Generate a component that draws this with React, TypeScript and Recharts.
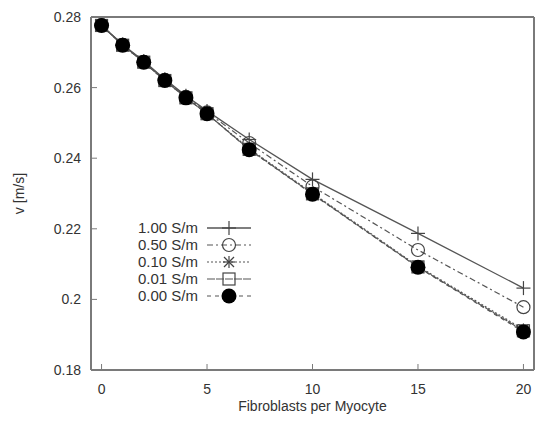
import { LineChart, Line, XAxis, YAxis } from 'recharts'

const FIBROBLASTS = [0, 1, 2, 3, 4, 5, 7, 10, 15, 20]
const V_100 = [0.2777, 0.2722, 0.2675, 0.2624, 0.2577, 0.2534, 0.2453, 0.234, 0.2187, 0.2032]
const V_050 = [0.2777, 0.2721, 0.2673, 0.2622, 0.2574, 0.253, 0.2443, 0.232, 0.214, 0.1978]
const V_010 = [0.2776, 0.272, 0.2672, 0.262, 0.2572, 0.2526, 0.2427, 0.2301, 0.2094, 0.1915]
const V_001 = [0.2776, 0.272, 0.2672, 0.262, 0.2571, 0.2526, 0.2425, 0.2299, 0.2092, 0.1911]
const V_000 = [0.2776, 0.272, 0.2672, 0.262, 0.2571, 0.2526, 0.2424, 0.2298, 0.2091, 0.1908]

const X_TICKS = [0, 5, 10, 15, 20]
const Y_TICKS = [0.18, 0.2, 0.22, 0.24, 0.26, 0.28]
const LABELS = ['1.00 S/m', '0.50 S/m', '0.10 S/m', '0.01 S/m', '0.00 S/m']

const data = FIBROBLASTS.map((f, i) => ({
  f,
  s100: V_100[i],
  s050: V_050[i],
  s010: V_010[i],
  s001: V_001[i],
  s000: V_000[i],
}))

const FONT = '"Liberation Sans", Arial, sans-serif'
const INK = '#333'
const FRAME = '#7a7a7a'
const LINE = '#555'

type Mark = 'plus' | 'circle' | 'star' | 'square' | 'dot'

function marker(kind: Mark, cx: number, cy: number, key?: string | number) {
  switch (kind) {
    case 'plus':
      return (
        <g key={key} stroke="#444" strokeWidth={1.2}>
          <line x1={cx - 7} y1={cy} x2={cx + 7} y2={cy} />
          <line x1={cx} y1={cy - 7} x2={cx} y2={cy + 7} />
        </g>
      )
    case 'circle':
      return <circle key={key} cx={cx} cy={cy} r={6.5} fill="none" stroke="#444" strokeWidth={1.2} />
    case 'star':
      return (
        <g key={key} stroke="#444" strokeWidth={1.2}>
          <line x1={cx - 5} y1={cy - 5} x2={cx + 5} y2={cy + 5} />
          <line x1={cx - 5} y1={cy + 5} x2={cx + 5} y2={cy - 5} />
          <line x1={cx - 6} y1={cy} x2={cx + 6} y2={cy} />
          <line x1={cx} y1={cy - 6} x2={cx} y2={cy + 6} />
        </g>
      )
    case 'square':
      return <rect key={key} x={cx - 6} y={cy - 6} width={12} height={12} fill="none" stroke="#444" strokeWidth={1.2} />
    default:
      return <circle key={key} cx={cx} cy={cy} r={7.5} fill="#000" />
  }
}

const SERIES: { key: string; mark: Mark; dash?: string; width: number }[] = [
  { key: 's100', mark: 'plus', width: 1.3 },
  { key: 's050', mark: 'circle', dash: '6 3 2 3', width: 1.2 },
  { key: 's010', mark: 'star', dash: '2 2', width: 1.2 },
  { key: 's001', mark: 'square', dash: '8 1', width: 1.1 },
  { key: 's000', mark: 'dot', dash: '4 4', width: 1.2 },
]

function Legend() {
  return (
    <svg width={538} height={422} style={{ position: 'absolute', left: 0, top: 0, pointerEvents: 'none' }}>
      {SERIES.map((s, i) => {
        const y = 228 + i * 17
        return (
          <g key={s.key}>
            <text x={198} y={y + 5} textAnchor="end" fontSize={15} fontFamily={FONT} fill={INK}>
              {LABELS[i]}
            </text>
            <line x1={207} y1={y} x2={251} y2={y} stroke={LINE} strokeWidth={s.width} strokeDasharray={s.dash} />
            {marker(s.mark, 229, y)}
          </g>
        )
      })}
    </svg>
  )
}

export default function App() {
  const tickStyle = { fontSize: 14, fontFamily: FONT, fill: INK }
  return (
    <div style={{ position: 'absolute', left: 0, top: 0, width: 538, height: 422, background: '#fff' }}>
      <LineChart width={538} height={422} data={data} margin={{ top: 16, right: 3, left: 0, bottom: 0 }}>
        <XAxis
          dataKey="f"
          type="number"
          domain={[-0.5, 20.5]}
          ticks={X_TICKS}
          height={52}
          tickSize={-6}
          tickMargin={20}
          tick={tickStyle}
          stroke={FRAME}
          axisLine={{ stroke: FRAME, strokeWidth: 2 }}
          tickLine={{ stroke: FRAME }}
          label={(p: any) => {
            const vb = p.viewBox
            return (
              <text x={vb.x + vb.width / 2} y={vb.y + 41} textAnchor="middle" fontSize={14} fontFamily={FONT} fill={INK}>
                Fibroblasts per Myocyte
              </text>
            )
          }}
        />
        <XAxis
          xAxisId="top"
          orientation="top"
          dataKey="f"
          type="number"
          domain={[-0.5, 20.5]}
          ticks={X_TICKS}
          height={1}
          tickSize={-6}
          tick={false}
          axisLine={{ stroke: FRAME, strokeWidth: 2 }}
          tickLine={{ stroke: FRAME }}
        />
        <YAxis
          type="number"
          domain={[0.18, 0.28]}
          ticks={Y_TICKS}
          width={91}
          tickSize={-6}
          tickMargin={16}
          tick={tickStyle}
          tickFormatter={(v: number) => String(Number(v.toFixed(2)))}
          axisLine={{ stroke: FRAME, strokeWidth: 2 }}
          tickLine={{ stroke: FRAME }}
          label={(p: any) => {
            const vb = p.viewBox
            const cy = vb.y + vb.height / 2
            return (
              <text x={24} y={cy} transform={`rotate(-90 24 ${cy})`} textAnchor="middle" fontSize={14} fontFamily={FONT} fill={INK}>
                v [m/s]
              </text>
            )
          }}
        />
        <YAxis
          yAxisId="right"
          orientation="right"
          type="number"
          domain={[0.18, 0.28]}
          ticks={Y_TICKS}
          width={1}
          tickSize={-6}
          tick={false}
          axisLine={{ stroke: FRAME, strokeWidth: 2 }}
          tickLine={{ stroke: FRAME }}
        />
        {SERIES.map((s) => (
          <Line
            key={s.key}
            dataKey={s.key}
            type="linear"
            stroke={LINE}
            strokeWidth={s.width}
            strokeDasharray={s.dash}
            isAnimationActive={false}
            activeDot={false}
            dot={(p: any) => marker(s.mark, p.cx, p.cy, `${s.key}-${p.index}`)}
          />
        ))}
      </LineChart>
      <Legend />
    </div>
  )
}
